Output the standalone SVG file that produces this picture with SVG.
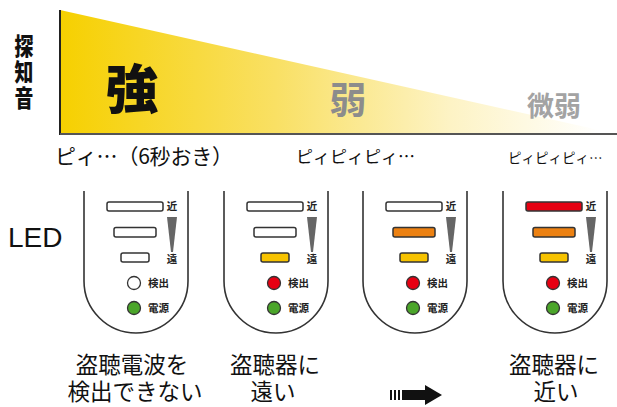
<svg xmlns="http://www.w3.org/2000/svg" width="617" height="407" viewBox="0 0 617 407">
<defs>
<linearGradient id="fade" gradientUnits="userSpaceOnUse" x1="60" y1="0" x2="600" y2="0">
<stop offset="0" stop-color="#f6d000"/>
<stop offset="0.4" stop-color="#f9e064"/>
<stop offset="0.72" stop-color="#fdf3c4"/>
<stop offset="1" stop-color="#ffffff"/>
</linearGradient>
<style>
.jp{font-family:"Noto Sans CJK JP","Noto Sans",sans-serif;}
.b{font-weight:bold;}
.shell{fill:none;stroke:#333;stroke-width:1.6;}
.bar{stroke:#333;stroke-width:1.5;}
.led{stroke:#333;stroke-width:1.3;}
.off{fill:#fff;}
.yel{fill:#f7c300;}
.org{fill:#ec8112;}
.red{fill:#e60012;}
.grn{fill:#4ba52a;}
.wedge{fill:#666;}
.lab{font-size:10.5px;fill:#222;}
.cap{font-size:22.5px;fill:#111;text-anchor:middle;}
</style>
</defs>
<rect width="617" height="407" fill="#fff"/>

<g id="meter">
<polygon points="60,10 617,134 60,134" fill="url(#fade)"/>
<line x1="60" y1="10" x2="60" y2="135" stroke="#222" stroke-width="2"/>
<line x1="60" y1="134" x2="617" y2="134" stroke="#555" stroke-width="2"/>
</g>

<g id="axis-title" class="jp" font-weight="900" font-size="23" fill="#111">
<text transform="translate(24,55) scale(0.82,1.05)" text-anchor="middle">探</text>
<text transform="translate(24,81) scale(0.82,1.05)" text-anchor="middle">知</text>
<text transform="translate(24,107) scale(0.82,1.05)" text-anchor="middle">音</text>
</g>

<g id="levels" class="jp">
<text x="132" y="109" font-size="53" font-weight="900" fill="#111" text-anchor="middle">強</text>
<text x="348" y="114" font-size="37" font-weight="bold" fill="#8c8c8c" text-anchor="middle">弱</text>
<text x="554" y="116" font-size="27" font-weight="bold" fill="#a3a3a3" text-anchor="middle">微弱</text>
</g>

<g id="sounds" class="jp" fill="#111">
<text x="55" y="164" font-size="21" textLength="178" lengthAdjust="spacing">ピィ…（6秒おき）</text>
<text x="296" y="163" font-size="17">ピィピィピィ…</text>
<text x="508" y="163" font-size="13.5">ピィピィピィ…</text>
</g>

<text id="led-label" x="8" y="247" font-family="Liberation Sans, Arial, sans-serif" font-size="28" fill="#111">LED</text>

<g id="device-1" transform="translate(136,0)">
<path class="shell" d="M-52,191 V281 A52,52 0 0 0 52,281 V191"/>
<rect class="bar off" x="-29" y="202" width="56" height="9" rx="2"/>
<rect class="bar off" x="-22" y="227.5" width="42" height="9.5" rx="2"/>
<rect class="bar off" x="-15" y="253" width="28" height="9" rx="2"/>
<polygon class="wedge" points="31,217 41,217 37,252 35,252"/>
<text class="jp b lab" x="36" y="210" text-anchor="middle">近</text>
<text class="jp b lab" x="36" y="263" text-anchor="middle">遠</text>
<circle class="led off" cx="-2" cy="283" r="6.5"/>
<circle class="led grn" cx="-2" cy="308" r="6.5"/>
<text class="jp b lab" x="12" y="287">検出</text>
<text class="jp b lab" x="12" y="312">電源</text>
</g>

<g id="device-2" transform="translate(276,0)">
<path class="shell" d="M-52,191 V281 A52,52 0 0 0 52,281 V191"/>
<rect class="bar off" x="-29" y="202" width="56" height="9" rx="2"/>
<rect class="bar off" x="-22" y="227.5" width="42" height="9.5" rx="2"/>
<rect class="bar yel" x="-15" y="253" width="28" height="9" rx="2"/>
<polygon class="wedge" points="31,217 41,217 37,252 35,252"/>
<text class="jp b lab" x="36" y="210" text-anchor="middle">近</text>
<text class="jp b lab" x="36" y="263" text-anchor="middle">遠</text>
<circle class="led red" cx="-2" cy="283" r="6.5"/>
<circle class="led grn" cx="-2" cy="308" r="6.5"/>
<text class="jp b lab" x="12" y="287">検出</text>
<text class="jp b lab" x="12" y="312">電源</text>
</g>

<g id="device-3" transform="translate(415,0)">
<path class="shell" d="M-52,191 V281 A52,52 0 0 0 52,281 V191"/>
<rect class="bar off" x="-29" y="202" width="56" height="9" rx="2"/>
<rect class="bar org" x="-22" y="227.5" width="42" height="9.5" rx="2"/>
<rect class="bar yel" x="-15" y="253" width="28" height="9" rx="2"/>
<polygon class="wedge" points="31,217 41,217 37,252 35,252"/>
<text class="jp b lab" x="36" y="210" text-anchor="middle">近</text>
<text class="jp b lab" x="36" y="263" text-anchor="middle">遠</text>
<circle class="led red" cx="-2" cy="283" r="6.5"/>
<circle class="led grn" cx="-2" cy="308" r="6.5"/>
<text class="jp b lab" x="12" y="287">検出</text>
<text class="jp b lab" x="12" y="312">電源</text>
</g>

<g id="device-4" transform="translate(555,0)">
<path class="shell" d="M-52,191 V281 A52,52 0 0 0 52,281 V191"/>
<rect class="bar red" x="-29" y="202" width="56" height="9" rx="2"/>
<rect class="bar org" x="-22" y="227.5" width="42" height="9.5" rx="2"/>
<rect class="bar yel" x="-15" y="253" width="28" height="9" rx="2"/>
<polygon class="wedge" points="31,217 41,217 37,252 35,252"/>
<text class="jp b lab" x="36" y="210" text-anchor="middle">近</text>
<text class="jp b lab" x="36" y="263" text-anchor="middle">遠</text>
<circle class="led red" cx="-2" cy="283" r="6.5"/>
<circle class="led grn" cx="-2" cy="308" r="6.5"/>
<text class="jp b lab" x="12" y="287">検出</text>
<text class="jp b lab" x="12" y="312">電源</text>
</g>

<g id="captions" class="jp">
<text class="cap" x="132" y="373">盗聴電波を</text>
<text class="cap" x="135" y="400">検出できない</text>
<text class="cap" x="275" y="373">盗聴器に</text>
<text class="cap" x="273" y="400">遠い</text>
<text class="cap" x="554" y="373">盗聴器に</text>
<text class="cap" x="556" y="400">近い</text>
</g>

<g id="connectors">
<g id="arrow" fill="#111">
<rect x="390" y="390" width="2" height="10"/>
<rect x="394" y="390" width="2" height="10"/>
<rect x="398" y="390" width="2" height="10"/>
<rect x="402" y="390" width="24" height="10"/>
<polygon points="425,385 442,395 425,405"/>
</g>
</g>
</svg>
